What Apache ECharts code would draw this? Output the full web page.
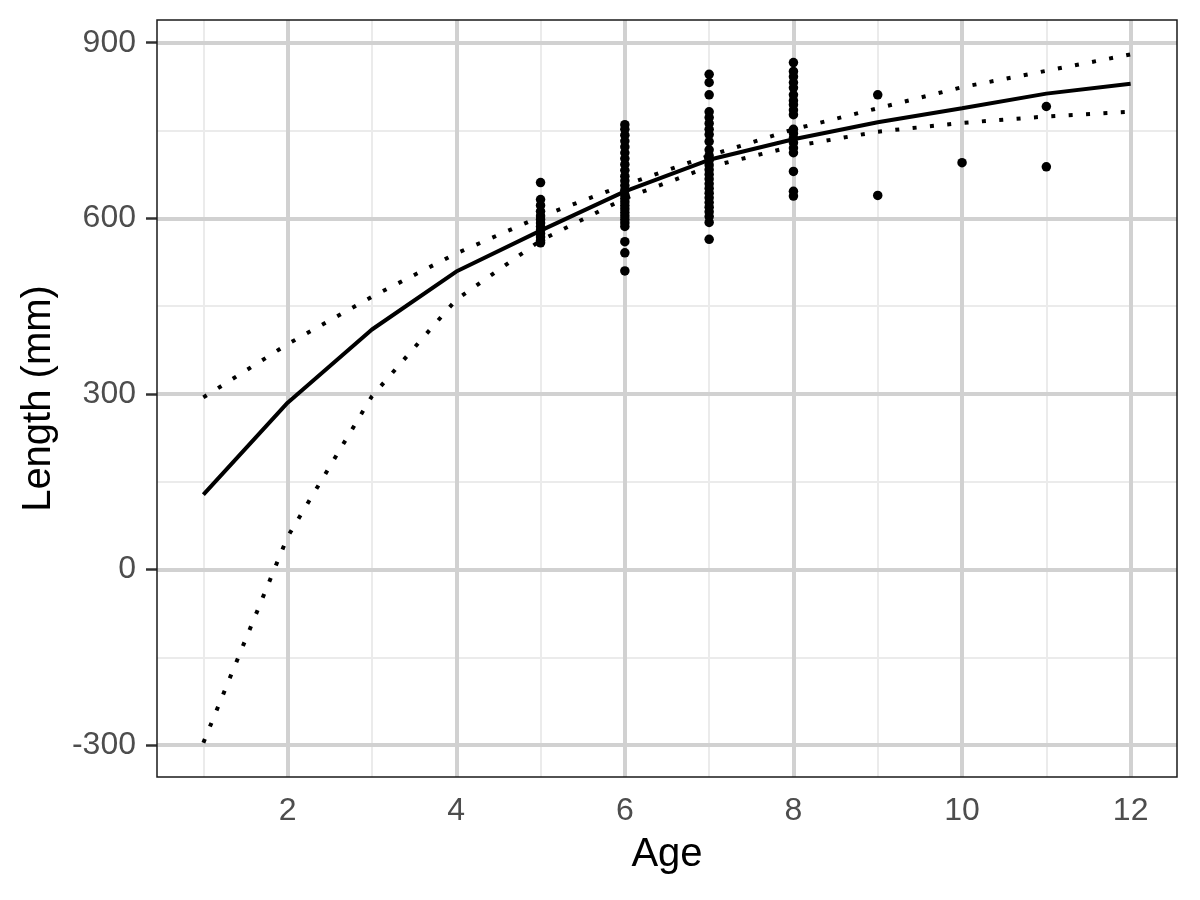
<!DOCTYPE html>
<html>
<head>
<meta charset="utf-8">
<script src="https://cdn.jsdelivr.net/npm/echarts@6/dist/echarts.min.js"></script>
<style>
html,body{margin:0;padding:0;background:#fff;}
#chart{width:1200px;height:900px;}
</style>
</head>
<body>
<div id="chart"></div>
<script>
// ---- data ----
const ages = [1, 2, 3, 4, 5, 6, 7, 8, 9, 10, 11, 12];
const fitLen = [128, 285, 410, 509, 579, 646, 700, 735, 764, 788, 813, 830];
const upperLen = [294, 385, 466, 540, 603, 657, 707, 752, 788, 824, 852, 880];
const lowerLen = [-296, 56, 296, 461, 562, 634, 688, 723, 748, 763, 774, 782];

const age5Len = [661, 632, 622, 612, 604, 598, 592, 586, 580, 574, 568, 562, 558];
const age6Len = [760, 752, 742, 732, 722, 712, 702, 692, 682, 672, 664, 656, 648, 640, 634, 628, 622, 616, 610, 604, 598, 592, 586, 560, 541, 510];
const age7Len = [846, 832, 811, 782, 772, 762, 752, 743, 731, 717, 707, 699, 691, 683, 675, 667, 659, 651, 643, 635, 627, 619, 611, 603, 593, 564];
const age8Len = [866, 851, 842, 832, 823, 811, 801, 794, 785, 777, 752, 745, 737, 729, 720, 712, 680, 646, 638];
const age9Len = [811, 639];
const age10Len = [695];
const age11Len = [791, 688];

const xTicks = [2, 4, 6, 8, 10, 12];
const xMinor = [1, 3, 5, 7, 9, 11];
const yTicks = [-300, 0, 300, 600, 900];
const yMinor = [-150, 150, 450, 750];

// ---- build ----
const groups = [[5, age5Len], [6, age6Len], [7, age7Len], [8, age8Len], [9, age9Len], [10, age10Len], [11, age11Len]];
const points = [];
groups.forEach(([a, arr]) => arr.forEach(v => points.push([a, v])));
const pair = arr => ages.map((a, i) => [a, arr[i]]);

const font = '"Liberation Sans", Arial, Helvetica, sans-serif';
const gridLines = (xs, ys) => xs.map(v => ({xAxis: v})).concat(ys.map(v => ({yAxis: v})));

const chart = echarts.init(document.getElementById('chart'), null, {renderer: 'canvas'});
chart.setOption({
  animation: false,
  backgroundColor: '#ffffff',
  grid: {left: 157, top: 20, right: 23, bottom: 123, show: true, borderColor: '#1a1a1a', borderWidth: 1.5, backgroundColor: 'transparent', z: 10},
  xAxis: {
    type: 'value', min: 0.45, max: 12.55,
    name: 'Age', nameLocation: 'middle', nameGap: 58,
    nameTextStyle: {fontFamily: font, fontSize: 40, color: '#000'},
    axisLine: {show: false},
    axisTick: {show: true, customValues: xTicks, length: 11, lineStyle: {color: '#333333', width: 2.5}},
    axisLabel: {customValues: xTicks, fontFamily: font, fontSize: 32, color: '#4d4d4d', margin: 18},
    splitLine: {show: false}
  },
  yAxis: {
    type: 'value', min: -354.6, max: 938.8,
    name: 'Length (mm)', nameLocation: 'middle', nameGap: 98, nameRotate: 90,
    nameTextStyle: {fontFamily: font, fontSize: 40, color: '#000'},
    axisLine: {show: false},
    axisTick: {show: true, customValues: yTicks, length: 11, lineStyle: {color: '#333333', width: 2.5}},
    axisLabel: {customValues: yTicks, fontFamily: font, fontSize: 32, color: '#4d4d4d', margin: 21},
    splitLine: {show: false}
  },
  series: [
    {
      type: 'line', data: [], z: 1, silent: true,
      markLine: {silent: true, symbol: ['none', 'none'], label: {show: false}, animation: false,
        lineStyle: {color: '#ebebeb', width: 2, type: 'solid'}, data: gridLines(xMinor, yMinor)}
    },
    {
      type: 'line', data: [], z: 2, silent: true,
      markLine: {silent: true, symbol: ['none', 'none'], label: {show: false}, animation: false,
        lineStyle: {color: '#d1d1d1', width: 4, type: 'solid'}, data: gridLines(xTicks, yTicks)}
    },
    {
      type: 'scatter', data: points, symbol: 'circle', symbolSize: 9.5, z: 5,
      itemStyle: {color: '#000', opacity: 1}
    },
    {
      type: 'line', data: pair(fitLen), symbol: 'none', z: 6,
      lineStyle: {color: '#000', width: 4}
    },
    {
      type: 'line', data: pair(upperLen), symbol: 'none', z: 6,
      lineStyle: {color: '#000', width: 4, type: [4, 13.4], cap: 'butt'}
    },
    {
      type: 'line', data: pair(lowerLen), symbol: 'none', z: 6,
      lineStyle: {color: '#000', width: 4, type: [4, 13.4], cap: 'butt'}
    }
  ]
});
</script>
</body>
</html>
